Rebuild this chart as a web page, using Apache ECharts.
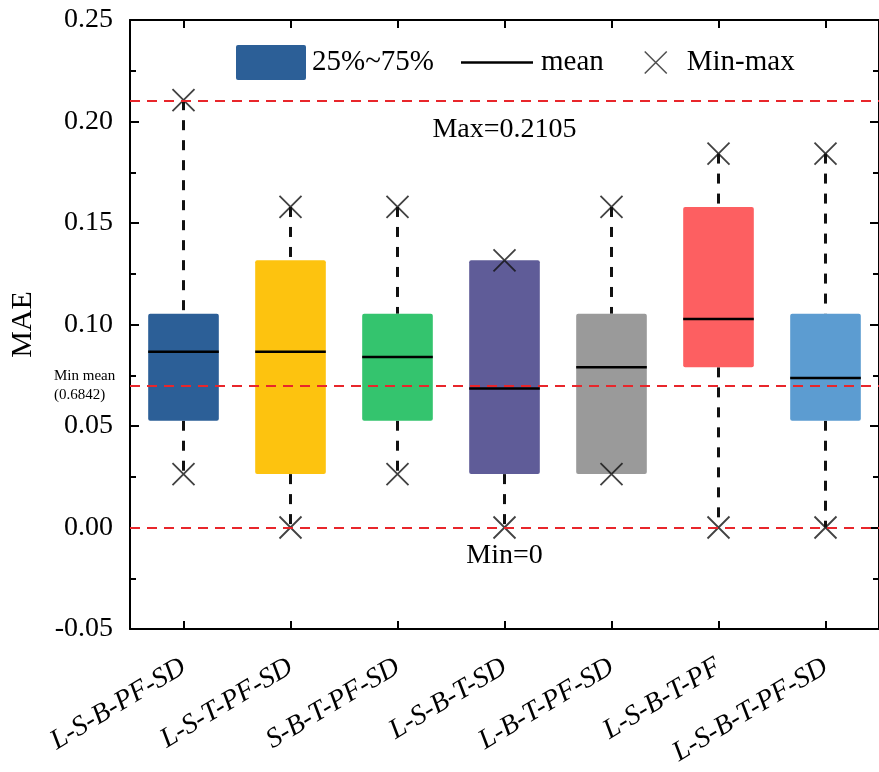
<!DOCTYPE html>
<html>
<head>
<meta charset="utf-8">
<script src="https://cdn.jsdelivr.net/npm/echarts@6/dist/echarts.min.js"></script>
<style>
html,body{margin:0;padding:0;background:#fff;}
#chart{width:879px;height:772px;}
</style>
</head>
<body>
<div id="chart"></div>
<script>
const categories = ['L-S-B-PF-SD','L-S-T-PF-SD','S-B-T-PF-SD','L-S-B-T-SD','L-B-T-PF-SD','L-S-B-T-PF','L-S-B-T-PF-SD'];
const q1Values   = [0.0526, 0.0263, 0.0526, 0.0263, 0.0263, 0.0789, 0.0526];
const q3Values   = [0.1053, 0.1316, 0.1053, 0.1316, 0.1053, 0.1579, 0.1053];
const meanValues = [0.0866, 0.0866, 0.0840, 0.06842, 0.0790, 0.1027, 0.0736];
const minValues  = [0.0263, 0, 0.0263, 0, 0.0263, 0, 0];
const maxValues  = [0.2105, 0.1579, 0.1579, 0.1316, 0.1579, 0.1842, 0.1842];
const refMax = 0.2105;
const refMinMean = 0.06842;
const refMin = 0;
const yTicks = [-0.05, 0, 0.05, 0.10, 0.15, 0.20, 0.25];
const boxColors = ['#2c5f97','#fdc30f','#34c46e','#5f5c98','#9a9a9a','#fd5f61','#5c9cd1'];

const FONT = "'Liberation Serif','Times New Roman',serif";
const chart = echarts.init(document.getElementById('chart'));

const boxData = categories.map((c, i) => [i, q1Values[i], q3Values[i], meanValues[i], minValues[i], maxValues[i]]);
const xData = [];
categories.forEach((c, i) => { xData.push([i, minValues[i]]); xData.push([i, maxValues[i]]); });

function renderBox(params, api) {
  const i = api.value(0);
  const cx = api.coord([i, 0])[0];
  const w = api.size([1, 0])[0] * 0.66;
  const yq1 = api.coord([i, api.value(1)])[1];
  const yq3 = api.coord([i, api.value(2)])[1];
  const ym = api.coord([i, api.value(3)])[1];
  const ymin = api.coord([i, api.value(4)])[1];
  const ymax = api.coord([i, api.value(5)])[1];
  const children = [];
  const dashStyle = { stroke: '#111', lineWidth: 3, lineDash: [10, 10] };
  if (ymax < yq3 - 1) {
    children.push({ type: 'line', shape: { x1: cx, y1: ymax, x2: cx, y2: yq3 }, style: dashStyle });
  }
  if (ymin > yq1 + 1) {
    children.push({ type: 'line', shape: { x1: cx, y1: yq1, x2: cx, y2: ymin }, style: dashStyle });
  }
  children.push({ type: 'rect', shape: { x: cx - w / 2, y: yq3, width: w, height: yq1 - yq3, r: 2 },
    style: { fill: boxColors[params.dataIndex] } });
  children.push({ type: 'line', shape: { x1: cx - w / 2, y1: ym, x2: cx + w / 2, y2: ym },
    style: { stroke: '#000', lineWidth: 2.5 } });
  return { type: 'group', children };
}

const xPath = 'path://M0,0L20,20M20,0L0,20';

const option = {
  animation: false,
  backgroundColor: '#fff',
  grid: { left: 127, right: -3, top: 20, bottom: 143, containLabel: false },
  legend: [
    { left: 236, top: 45, padding: 0, itemWidth: 70, itemHeight: 35, itemGap: 0,
      data: [{ name: '25%~75%', icon: 'path://M2,0L68,0Q70,0 70,2L70,33Q70,35 68,35L2,35Q0,35 0,33L0,2Q0,0 2,0Z' }],
      textStyle: { fontFamily: FONT, fontSize: 29, color: '#000', padding: [0, 0, 0, 1] } },
    { left: 461, top: 48, padding: 0, itemWidth: 72, itemHeight: 2.5,
      data: [{ name: 'mean', icon: 'rect', itemStyle: { color: '#000' } }],
      textStyle: { fontFamily: FONT, fontSize: 29, color: '#000', padding: [0, 0, 0, 3] } },
    { left: 644, top: 48, padding: 0, itemWidth: 22, itemHeight: 22,
      data: [{ name: 'Min-max', icon: xPath, itemStyle: { color: 'transparent', borderColor: '#222', borderWidth: 1.5 } }],
      textStyle: { fontFamily: FONT, fontSize: 29, color: '#000', padding: [0, 0, 0, 15] } }
  ],
  xAxis: [
    { type: 'category', data: categories, position: 'bottom', boundaryGap: true,
      axisLine: { show: true, onZero: false, lineStyle: { color: '#000', width: 2 } },
      axisTick: { show: true, inside: true, alignWithLabel: true, length: 8, lineStyle: { color: '#000', width: 2 } },
      axisLabel: { interval: 0, rotate: 31, margin: 36, fontFamily: FONT, fontStyle: 'italic', fontSize: 28, color: '#000' },
      splitLine: { show: false } },
    { type: 'category', data: categories, position: 'top', boundaryGap: true,
      axisLine: { show: true, onZero: false, lineStyle: { color: '#000', width: 2 } },
      axisTick: { show: true, inside: true, alignWithLabel: true, length: 8, lineStyle: { color: '#000', width: 2 } },
      axisLabel: { show: false }, splitLine: { show: false } }
  ],
  yAxis: [
    { type: 'value', min: -0.05, max: 0.25, interval: 0.05, position: 'left',
      name: 'MAE', nameLocation: 'middle', nameGap: 92,
      nameTextStyle: { fontFamily: FONT, fontSize: 30, color: '#000' },
      axisLine: { show: true, lineStyle: { color: '#000', width: 2 } },
      axisTick: { show: true, inside: true, length: 9, lineStyle: { color: '#000', width: 2 } },
      minorTick: { show: true, splitNumber: 2, length: 6, lineStyle: { color: '#000', width: 2 } },
      axisLabel: { margin: 17, fontFamily: FONT, fontSize: 28, color: '#000',
        formatter: v => { const t = yTicks.find(k => Math.abs(k - v) < 1e-9); return (t === undefined ? v : t).toFixed(2); } },
      splitLine: { show: false } },
    { type: 'value', min: -0.05, max: 0.25, interval: 0.05, position: 'right',
      axisLine: { show: true, lineStyle: { color: '#000', width: 2 } },
      axisTick: { show: true, inside: true, length: 9, lineStyle: { color: '#000', width: 2 } },
      minorTick: { show: true, splitNumber: 2, length: 6, lineStyle: { color: '#000', width: 2 } },
      axisLabel: { show: false }, splitLine: { show: false } }
  ],
  series: [
    { name: '25%~75%', type: 'custom', renderItem: renderBox, data: boxData,
      itemStyle: { color: boxColors[0] }, encode: { x: 0, y: [1, 2, 3, 4, 5] }, z: 2 },
    { name: 'mean', type: 'line', data: [], symbol: 'none',
      lineStyle: { color: '#000', width: 2.5 }, itemStyle: { color: '#000' } },
    { name: 'Min-max', type: 'scatter', data: xData, symbol: xPath, symbolSize: 22,
      itemStyle: { color: 'transparent', borderColor: '#111', borderWidth: 1.8 }, z: 4,
      markLine: {
        silent: true, symbol: 'none', animation: false,
        lineStyle: { color: '#e8262b', type: [10, 7], width: 2 },
        data: [
          { yAxis: refMax, label: { show: true, position: 'insideMiddleBottom', distance: 14,
              formatter: 'Max=' + refMax, fontFamily: FONT, fontSize: 28, color: '#000' } },
          { yAxis: refMinMean, label: { show: true, position: 'start', distance: 76, align: 'left',
              formatter: 'Min mean\n(0.6842)', fontFamily: FONT, fontSize: 15, lineHeight: 19, color: '#000' } },
          { yAxis: refMin, label: { show: true, position: 'insideMiddleBottom', distance: 14,
              formatter: 'Min=' + refMin, fontFamily: FONT, fontSize: 28, color: '#000' } }
        ]
      } }
  ]
};
chart.setOption(option);
</script>
</body>
</html>
